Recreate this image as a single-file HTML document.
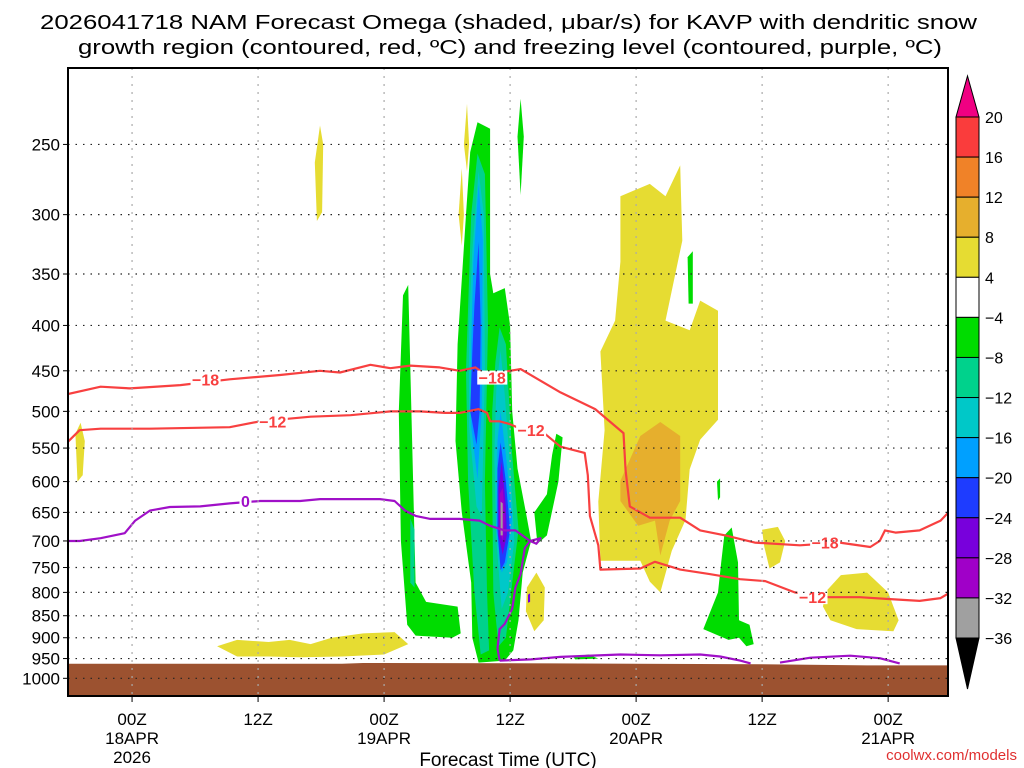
<!DOCTYPE html>
<html><head><meta charset="utf-8"><style>
html,body{margin:0;padding:0;background:#fff;}
svg{display:block;font-family:"Liberation Sans","DejaVu Sans",sans-serif;}
</style></head><body>
<svg id="chart" width="1024" height="768" viewBox="0 0 1024 768" xmlns="http://www.w3.org/2000/svg">
<rect width="1024" height="768" fill="#fff"/>
<text x="40" y="29" font-size="20" textLength="937" lengthAdjust="spacingAndGlyphs">2026041718 NAM Forecast Omega (shaded, μbar/s) for KAVP with dendritic snow</text>
<text x="78" y="54" font-size="20" textLength="864" lengthAdjust="spacingAndGlyphs">growth region (contoured, red, ºC) and freezing level (contoured, purple, ºC)</text>
<g id="plot"></g>
<text x="508" y="766" font-size="19" text-anchor="middle">Forecast Time (UTC)</text>
<text x="1017" y="760" font-size="15" fill="#e03030" text-anchor="end">coolwx.com/models</text>
<g id="cbar"></g>
</svg>
<script>
const NS="http://www.w3.org/2000/svg";
// axes
const hourMin=-6.1, hourMax=77.7, pTop=205, pBot=1047;
const pressureTicks=[250,300,350,400,450,500,550,600,650,700,750,800,850,900,950,1000];
const timeTicks=[0,12,24,36,48,60,72];
const timeLabels1=["00Z","12Z","00Z","12Z","00Z","12Z","00Z"];
const timeLabels2=["18APR","","19APR","","20APR","","21APR"];
const timeLabels3=["2026","","","","","",""];
// shaded omega regions: polygons of [hour, hPa]
const cbLevels=[20,16,12,8,4,-4,-8,-12,-16,-20,-24,-28,-32,-36];
const cbColors=["#fa3c3c","#f08228","#e6af2d","#e6dc32","#ffffff","#00dc00","#00d28c","#00c8c8","#00a0ff","#1e3cff","#7800dc","#a000c8","#a0a0a0"];
const yellowShapes=[
 [[17.4,262],[17.9,238],[18.2,250],[18.1,298],[17.6,305]],
 [[-5.4,530],[-4.9,515],[-4.5,540],[-4.7,590],[-5.2,600]],
 [[8.1,920],[10,905],[13,910],[15,905],[17,915],[19,900],[22,890],[25,887],[26.3,915],[24,940],[20,945],[16,947],[13,945],[10,945]],
 [[31.6,250],[31.9,225],[32.1,250],[31.9,268]],
 [[31.1,300],[31.4,266],[31.6,300],[31.4,325]],
 [[37.6,790],[38.5,760],[39.3,790],[39.2,860],[38.3,885],[37.5,840]],
 [[46.5,286],[49.3,277],[50.8,286],[52.2,264],[52.4,321],[50.8,395],[53.1,405],[54.1,375],[55.8,385],[55.8,511],[54.1,538],[53.1,581],[52.7,663],[51.4,718],[50.3,800],[49.3,778],[48.4,737],[44.6,737],[44.4,632],[45.0,525],[44.6,428],[46.0,395],[46.5,339]],
 [[60.0,680],[61.5,675],[62.2,700],[61.7,740],[60.7,752],[60.2,710]],
 [[66.0,800],[67.5,765],[70.0,760],[72.0,800],[73.0,860],[72.5,885],[69.0,880],[66.5,860],[65.8,830]]
];
const orangeShapes=[
 [[46.5,599],[48.4,533],[50.3,514],[52.2,533],[52.2,631],[51.2,664],[50.3,727],[49.8,664],[48.2,673],[46.5,631]]
];
const greenShapes=[
 [[25.8,370],[26.3,360],[26.6,500],[27.0,780],[28.0,820],[31.0,830],[31.3,890],[30.5,900],[27,895],[26.2,870],[25.6,700],[25.4,500]],
 [[31.8,300],[32.2,255],[32.9,236],[34.1,240],[34.1,350],[34.4,368],[35.5,363],[36.0,400],[36.2,500],[36.7,580],[37.5,650],[38.0,700],[37.2,760],[36.8,860],[36.3,930],[35.5,955],[33.0,960],[32.4,900],[32.3,780],[31.4,650],[30.8,540],[31.0,420]],
 [[36.7,245],[37.0,222],[37.3,245],[37.0,285]],
 [[40.4,530],[41.0,535],[40.6,600],[39.5,690],[38.6,705],[38.3,650],[39.5,620],[40.0,560]],
 [[52.9,335],[53.4,330],[53.4,378],[53.0,378]],
 [[55.7,600],[56.0,595],[56.0,625],[55.8,630]],
 [[56.4,690],[57.1,676],[57.7,740],[57.8,860],[58.8,870],[59.2,915],[58.5,920],[57.8,900],[56.8,905],[54.4,880],[55.8,800],[56.1,740]],
 [[42.0,945],[43.5,940],[44.4,950],[42.2,952]]
];
const tealShapes=[
 [[26.5,660],[26.9,680],[26.9,790],[26.5,780]],
 [[32.3,300],[32.9,256],[33.6,270],[33.9,400],[33.6,600],[33.8,800],[34.0,930],[33.2,940],[32.6,800],[32.0,600],[31.8,450]],
 [[34.6,440],[35.0,402],[35.6,420],[36.2,560],[36.8,680],[36.2,780],[35.6,900],[34.9,920],[34.4,800],[34.3,600],[34.3,500]]
];
const cyanShapes=[
 [[32.4,330],[33.0,268],[33.5,300],[33.6,450],[33.3,657],[32.8,640],[32.1,520],[32.1,400]],
 [[34.7,470],[35.1,427],[35.5,480],[36.1,600],[36.4,700],[35.8,800],[35.2,835],[34.7,700],[34.5,560]]
];
const lightBlueShapes=[
 [[32.5,340],[33.0,277],[33.4,320],[33.3,500],[32.9,596],[32.3,520],[32.3,420]],
 [[34.8,540],[35.1,500],[35.6,560],[36.2,660],[35.7,740],[35.2,760],[34.7,680]]
];
const blueShapes=[
 [[32.6,380],[33.0,322],[33.2,400],[33.1,500],[32.8,545],[32.2,500],[32.4,430]],
 [[34.8,580],[35.1,542],[35.6,600],[36.0,680],[35.5,740],[35.1,755],[34.8,680]]
];
const violetShapes=[[[34.9,610],[35.2,570],[35.6,640],[35.7,690],[35.3,725],[34.9,690]],[[37.7,805],[37.9,802],[37.9,820],[37.7,822]]];
const magentaShapes=[[[35.0,620],[35.3,610],[35.5,660],[35.3,700],[35.0,680]]];
const grayShapes=[[[35.1,632],[35.3,635],[35.3,690],[35.1,690]]];
// contours
const contourM18=[[-6.1,478],[-3.0,469],[-0.2,471],[4.6,467],[9.3,460],[14.1,455],[17.9,450],[19.8,452],[22.7,443],[24.6,447],[26.5,444],[29.3,446],[31.2,450],[32.7,446],[34.1,458],[35.0,452],[37.0,448],[40.8,476],[44.1,497],[46.8,529],[47.0,583],[47.4,640],[49.3,659],[52.2,659],[54.1,681],[56.5,690],[59.3,703],[63.6,708],[67.4,703],[70.3,711],[71.2,700],[71.7,681],[72.7,685],[75.0,681],[77.0,664],[77.9,647]];
const contourM12=[[-6.1,541],[-5.0,525],[-3.0,523],[1.7,523],[9.3,521],[12.2,513],[17.0,507],[20.8,505],[24.6,500],[27.4,500],[29.8,502],[31.2,502],[33.0,497],[33.8,502],[34.1,513],[35.0,513],[36.0,517],[37.0,523],[38.9,525],[40.8,548],[43.1,557],[43.4,590],[43.6,656],[44.4,708],[44.6,754],[48.4,752],[49.8,739],[52.2,754],[55.0,763],[57.9,773],[60.3,777],[63.1,800],[66.3,810],[69.3,810],[72.2,814],[75.0,818],[77.0,812],[77.9,800]];
const contourZeroA=[[-6.1,700],[-5.0,700],[-3.0,695],[-0.7,686],[0.3,664],[1.7,647],[3.6,641],[6.5,640],[9.3,635],[12.2,631],[16.0,631],[17.9,628],[20.8,628],[23.6,628],[25.0,631],[26.0,647],[27.0,656],[28.4,661],[31.2,661],[33.1,664],[34.1,673],[35.5,681],[36.5,681],[37.9,700],[38.9,695],[38.5,705],[37.9,700],[37.4,713],[37.0,763],[36.5,790],[36.2,835],[35.5,868],[35.0,880],[34.8,925],[35.0,955]];
const contourZeroB=[[35.0,955],[38.0,952],[40.8,946],[46.5,940],[50.3,942],[54.1,940],[56.0,945],[57.9,955],[58.9,962]];
const contourZeroC=[[61.7,960],[64.6,948],[68.4,943],[71.2,949],[73.1,962]];
const groundHours=[-6.1,20,22,40,60,70,77.7];
const groundP=[963,963,961,962,964,967,967];
const labelsM18=[[7.0,-18],[34.3,-18],[66.0,-18]];
const labelsM12=[[13.4,-12],[38.0,-12],[64.8,-12]];
const labelsZero=[[10.8,0]];

const X0=68,X1=948,Y0=68,Y1=696;
function xs(h){return X0+(h-hourMin)/(hourMax-hourMin)*(X1-X0);}
function ys(p){return Y0+Math.log(p/pTop)/Math.log(pBot/pTop)*(Y1-Y0);}
const plot=document.getElementById('plot');
function mk(tag,attrs,parent){const e=document.createElementNS(NS,tag);for(const k in attrs)e.setAttribute(k,attrs[k]);(parent||plot).appendChild(e);return e;}
const clip=mk('clipPath',{id:'pc'});mk('rect',{x:X0,y:Y0,width:X1-X0,height:Y1-Y0},clip);
const g=mk('g',{'clip-path':'url(#pc)'});
function poly(arr,fill,name){const e=mk('polygon',{points:arr.map(d=>xs(d[0]).toFixed(1)+','+ys(d[1]).toFixed(1)).join(' '),fill:fill},g);

}
yellowShapes.forEach(s=>poly(s,cbColors[3],'omega-positive-4-8'));
orangeShapes.forEach(s=>poly(s,cbColors[2],'omega-positive-8-12'));
greenShapes.forEach(s=>poly(s,cbColors[5],'omega-neg-4-8'));
tealShapes.forEach(s=>poly(s,cbColors[6],'omega-neg-8-12'));
cyanShapes.forEach(s=>poly(s,cbColors[7],'omega-neg-12-16'));
lightBlueShapes.forEach(s=>poly(s,cbColors[8],'omega-neg-16-20'));
blueShapes.forEach(s=>poly(s,cbColors[9],'omega-neg-20-24'));
violetShapes.forEach(s=>poly(s,cbColors[10],'omega-neg-24-28'));
magentaShapes.forEach(s=>poly(s,cbColors[11],'omega-neg-28-32'));
grayShapes.forEach(s=>poly(s,cbColors[12],'omega-neg-32-36'));
// ground
{let pts=groundHours.map((h,i)=>xs(h).toFixed(1)+','+ys(groundP[i]).toFixed(1));
pts.push(X1+','+Y1,X0+','+Y1);
const e=mk('polygon',{points:pts.join(' '),fill:'#9c5230'},g);

}
// grid
pressureTicks.forEach(p=>{const e=mk('line',{x1:X0,x2:X1,y1:ys(p),y2:ys(p),stroke:'#222','stroke-width':1.2,'stroke-dasharray':'1.5 6'});


const t=mk('text',{x:60,y:ys(p)+6,'font-size':17,'text-anchor':'end'});t.textContent=p;


mk('line',{x1:X0-5,x2:X0,y1:ys(p),y2:ys(p),stroke:'#000'});});
timeTicks.forEach((h,i)=>{const x=xs(h);
const e=mk('line',{x1:x,x2:x,y1:Y0,y2:Y1,stroke:'#aaa','stroke-width':1.2,'stroke-dasharray':'2 6'});


mk('line',{x1:x,x2:x,y1:Y1,y2:Y1+6,stroke:'#000'});
[timeLabels1[i],timeLabels2[i],timeLabels3[i]].forEach((s,j)=>{if(!s)return;const t=mk('text',{x:x,y:725+j*19,'font-size':17,'text-anchor':'middle'});t.textContent=s;

});});
// contours
function line(arr,color,name){const e=mk('polyline',{points:arr.map(d=>xs(d[0]).toFixed(1)+','+ys(d[1]).toFixed(1)).join(' '),fill:'none',stroke:color,'stroke-width':2.2,'stroke-linejoin':'round'},g);

}
line(contourM18,'#f84040','contour-minus-18');
line(contourM12,'#f84040','contour-minus-12');
line(contourZeroA,'#a010c8','freezing-level-contour');
line(contourZeroB,'#a010c8','freezing-level-contour');
line(contourZeroC,'#a010c8','freezing-level-contour');
function clabel(arr,color,pArr){arr.forEach(d=>{let best=pArr[0];pArr.forEach(q=>{if(Math.abs(q[0]-d[0])<Math.abs(best[0]-d[0]))best=q;});
const x=xs(d[0]),y=ys(best[1]);
const w=d[1]<0?30:12;
mk('rect',{x:x-w/2,y:y-7,width:w,height:14,fill:'#fff'},g);
const t=mk('text',{x:x,y:y+6,'font-size':16,'font-weight':'bold',fill:color,'text-anchor':'middle'},g);t.textContent=d[1]<0?'−'+Math.abs(d[1]):String(d[1]);

});}
clabel(labelsM18,'#f84040',contourM18);
clabel(labelsM12,'#f84040',contourM12);
clabel(labelsZero,'#a010c8',contourZeroA);
// frame
{const e=mk('rect',{x:X0,y:Y0,width:X1-X0,height:Y1-Y0,fill:'none',stroke:'#000','stroke-width':2});

}
// colorbar
const cb=document.getElementById('cbar');
const CX=956,CW=23,CT=117,CB=638,bh=(CB-CT)/cbColors.length;
{const e=mk('polygon',{points:`${CX},${CT} ${CX+CW},${CT} ${CX+CW/2},76`,fill:'#f00082',stroke:'#000'},cb);

}
{const e=mk('polygon',{points:`${CX},${CB} ${CX+CW},${CB} ${CX+CW/2},689`,fill:'#000',stroke:'#000'},cb);

}
cbColors.forEach((c,i)=>{const e=mk('rect',{x:CX,y:CT+i*bh,width:CW,height:bh,fill:c,stroke:'#000','stroke-width':1},cb);

});
cbLevels.forEach((v,i)=>{const t=mk('text',{x:985,y:CT+i*bh+6,'font-size':16},cb);t.textContent=v<0?'−'+Math.abs(v):String(v);

});
</script>
</body></html>
